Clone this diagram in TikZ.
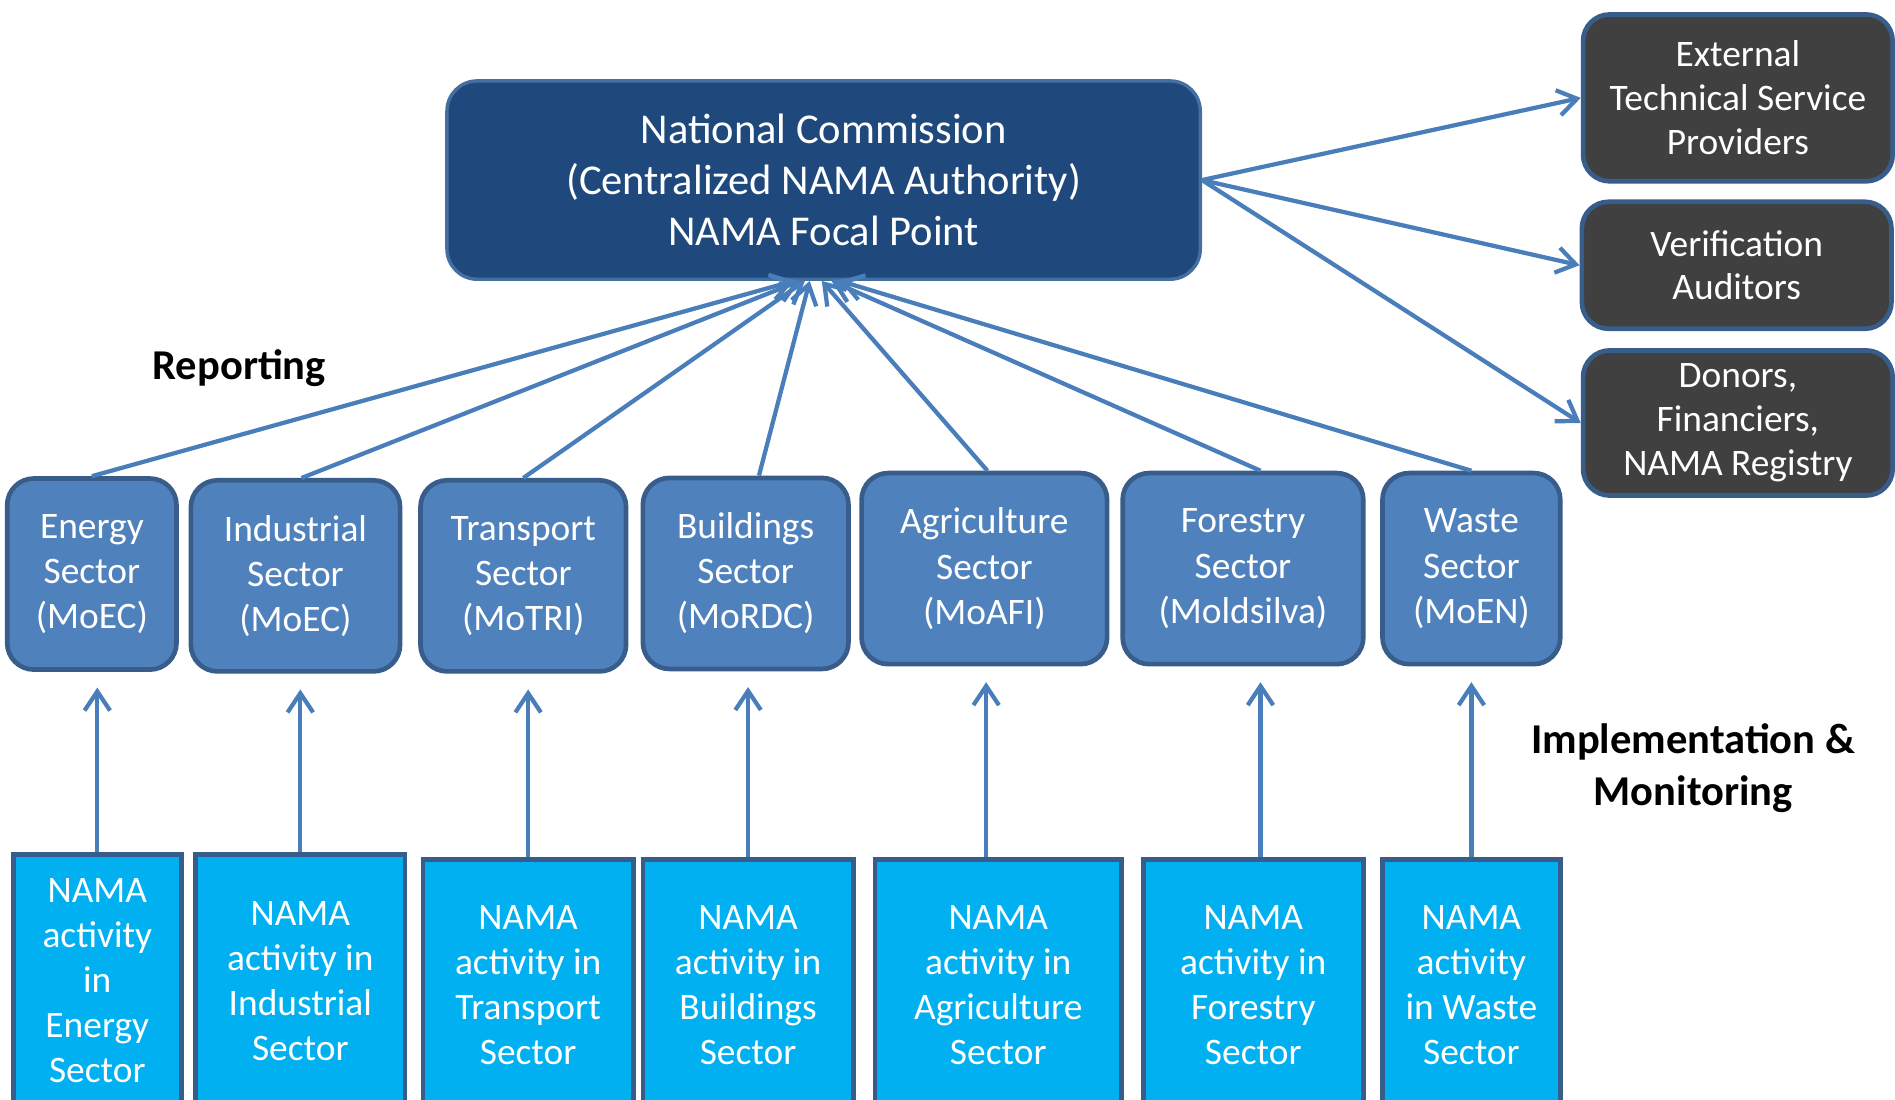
\documentclass[tikz,border=0pt]{standalone}
\usepackage{fontspec}
\setmainfont{Carlito}
\usetikzlibrary{arrows.meta}

\definecolor{commblue}{HTML}{1F497D}
\definecolor{commedge}{HTML}{4470A0}
\definecolor{sectblue}{HTML}{4F81BD}
\definecolor{edgeblue}{HTML}{385D8A}
\definecolor{actblue}{HTML}{00B0F0}
\definecolor{partgray}{HTML}{404040}
\definecolor{linkblue}{HTML}{4A7EBB}

\begin{document}
\begin{tikzpicture}[x=0.01cm,y=-0.01cm,
  boxtext/.style={text=white,align=center,inner sep=0pt,
    font=\fontsize{8.8}{10.6}\selectfont},
  sector/.style={boxtext,draw=edgeblue,fill=sectblue,line width=1.1pt,
    rounded corners=0.22cm,minimum height=1.58cm},
  activity/.style={boxtext,draw=edgeblue,fill=actblue,line width=1.1pt,
    anchor=north,minimum height=2.09cm},
  partner/.style={boxtext,draw=edgeblue,fill=partgray,line width=1.1pt,
    rounded corners=0.22cm,minimum width=2.56cm,
    font=\fontsize{8.8}{10.3}\selectfont},
  link/.style={draw=linkblue,line width=1pt,
    -{Straight Barb[length=4.5pt,width=6pt]}},
  up/.style={link,shorten >=0.13cm},
  label/.style={font=\bfseries\fontsize{10}{12.2}\selectfont,align=center}]
  \clip (0,0) rectangle (1568,910);
  \fill[white] (0,0) rectangle (1568,910);

  % central authority
  \node[boxtext,draw=commedge,fill=commblue,line width=0.8pt,
    rounded corners=0.25cm,minimum width=6.23cm,minimum height=1.64cm,
    font=\fontsize{10}{12}\selectfont] (nc) at (681.5,149)
    {National Commission\\(Centralized NAMA Authority)\\NAMA Focal Point};

  % partners
  \node[partner,minimum height=1.38cm] (ext) at (1438,81)
    {External\\Technical Service\\Providers};
  \node[partner,minimum height=1.05cm] (ver) at (1437,219.5)
    {Verification\\Auditors};
  \node[partner,minimum height=1.20cm] (don) at (1438,350)
    {Donors,\\Financiers,\\NAMA Registry};

  % sectors
  \node[sector,minimum width=1.40cm] (es) at (76,475)
    {Energy\\Sector\\(MoEC)};
  \node[sector,minimum width=1.73cm] (is) at (244.5,476.5)
    {Industrial\\Sector\\(MoEC)};
  \node[sector,minimum width=1.70cm] (ts) at (433,476.5)
    {Transport\\Sector\\(MoTRI)};
  \node[sector,minimum width=1.70cm] (bs) at (617,474.5)
    {Buildings\\Sector\\(MoRDC)};
  \node[sector,minimum width=2.03cm] (as) at (814.5,470.5)
    {Agriculture\\Sector\\(MoAFI)};
  \node[sector,minimum width=1.99cm] (fs) at (1028.5,470.5)
    {Forestry\\Sector\\(Moldsilva)};
  \node[sector,minimum width=1.47cm] (ws) at (1217.5,470.5)
    {Waste\\Sector\\(MoEN)};

  % activities
  \node[activity,minimum width=1.39cm] (ea) at (80.5,705)
    {NAMA\\activity\\in\\Energy\\Sector};
  \node[activity,minimum width=1.73cm] (ia) at (248.5,705)
    {NAMA\\activity in\\Industrial\\Sector};
  \node[activity,minimum width=1.74cm] (ta) at (437,709)
    {NAMA\\activity in\\Transport\\Sector};
  \node[activity,minimum width=1.74cm] (ba) at (619,709)
    {NAMA\\activity in\\Buildings\\Sector};
  \node[activity,minimum width=2.04cm] (aa) at (826,709)
    {NAMA\\activity in\\Agriculture\\Sector};
  \node[activity,minimum width=1.82cm] (fa) at (1037,709)
    {NAMA\\activity in\\Forestry\\Sector};
  \node[activity,minimum width=1.47cm] (wa) at (1217.5,709)
    {NAMA\\activity\\in Waste\\Sector};

  \node[label] (rep) at (198,305) {Reporting};
  \node[label] (imp) at (1401,635.5) {Implementation \&\\Monitoring};

  % implementation & monitoring
  \draw[up] (ea.north) -- (ea.north |- es.south);
  \draw[up] (ia.north) -- (ia.north |- is.south);
  \draw[up] (ta.north) -- (ta.north |- ts.south);
  \draw[up] (ba.north) -- (ba.north |- bs.south);
  \draw[up] ([xshift=-0.1cm]aa.north) -- ([xshift=-0.1cm]aa.north |- as.south);
  \draw[up] ([xshift=0.06cm]fa.north) -- ([xshift=0.06cm]fa.north |- fs.south);
  \draw[up] (wa.north) -- (wa.north |- ws.south);

  % reporting
  \draw[link] (es.north) -- ([xshift=-0.245cm]nc.south);
  \draw[link] ([xshift=0.05cm]is.north) -- ([xshift=-0.195cm]nc.south);
  \draw[link] (ts.north) -- ([xshift=-0.155cm]nc.south);
  \draw[link] ([xshift=0.11cm]bs.north) -- ([xshift=-0.115cm]nc.south);
  \draw[link] ([xshift=0.025cm]as.north) -- ([xshift=-0.015cm]nc.south);
  \draw[link] ([xshift=0.145cm]fs.north) -- ([xshift=0.065cm]nc.south);
  \draw[link] (ws.north) -- ([xshift=0.135cm]nc.south);

  % partners
  \draw[link] (nc.east) -- (ext.west);
  \draw[link] (nc.east) -- (ver.west);
  \draw[link] (nc.east) -- (don.west);
\end{tikzpicture}
\end{document}
